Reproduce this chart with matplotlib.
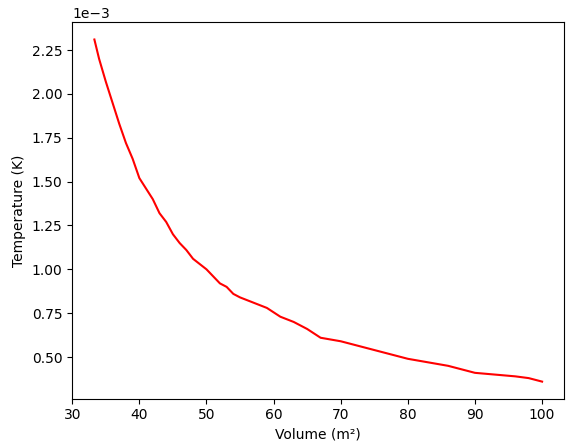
import matplotlib
matplotlib.use("Agg")
import matplotlib.pyplot as plt

volume = [33.3, 34, 35, 36, 37, 38, 39, 40, 41, 42, 43, 44, 45, 46, 47, 48, 49, 50,
          51, 52, 53, 54, 55, 57, 59, 61, 63, 65, 67, 70, 72, 75, 78, 80, 83, 86,
          88, 90, 93, 96, 98, 100]
temperature = [2.31, 2.20, 2.07, 1.95, 1.83, 1.72, 1.63, 1.52, 1.46, 1.40, 1.32, 1.27,
               1.20, 1.15, 1.11, 1.06, 1.03, 1.00, 0.96, 0.92, 0.90, 0.86, 0.84, 0.81,
               0.78, 0.73, 0.70, 0.66, 0.61, 0.59, 0.57, 0.54, 0.51, 0.49, 0.47, 0.45,
               0.43, 0.41, 0.40, 0.39, 0.38, 0.36]
temperature = [t * 1e-3 for t in temperature]

fig, ax = plt.subplots(figsize=(5.76, 4.48), dpi=100)
ax.plot(volume, temperature, color="red")
ax.set_xlabel("Volume (m²)")
ax.set_ylabel("Temperature (K)")
ax.ticklabel_format(axis="y", style="sci", scilimits=(0, 0))
fig.subplots_adjust(left=0.125, right=0.98, bottom=0.11, top=0.95)
fig.savefig("out.png")
